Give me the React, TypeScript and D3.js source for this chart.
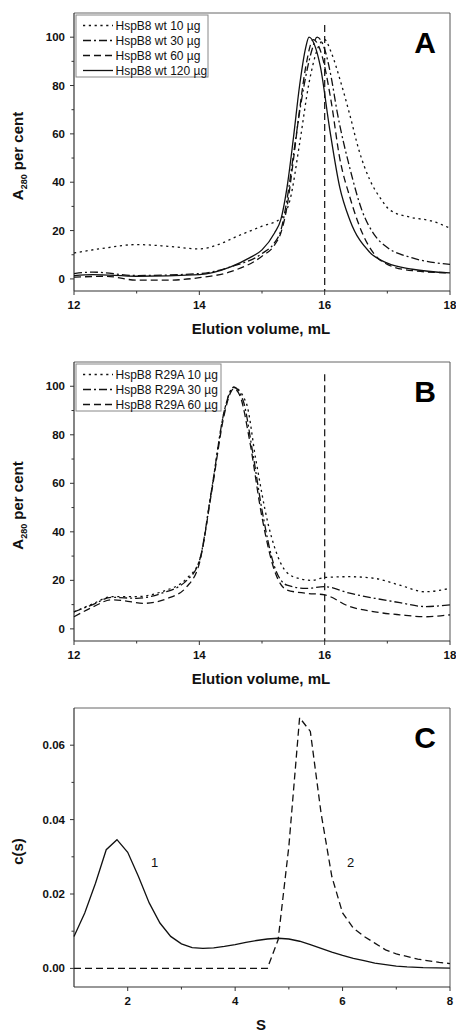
import React from "react";
import * as d3 from "d3";

// ---------- Panel A data (elution volume, mL ; A280 %) ----------
const aVol10 = [12, 12.5, 13.0, 13.5, 14.0, 14.3, 14.6, 15.0, 15.3, 15.45, 15.6, 15.75, 15.9, 16.0, 16.1, 16.25, 16.4, 16.55, 16.72, 16.9, 17.04, 17.37, 17.7, 18];
const aVal10 = [10.7, 12.8, 14.2, 13.5, 12.4, 14.2, 17.6, 21.8, 25, 33, 56, 81, 96, 99, 94, 82, 68, 53, 41, 33, 28.5, 25.5, 24, 21];
const aVol30 = [12, 12.3, 13.0, 14.0, 14.5, 15.0, 15.2, 15.3, 15.4, 15.5, 15.6, 15.7, 15.8, 15.88, 16.0, 16.1, 16.2, 16.4, 16.6, 16.8, 17.0, 17.4, 18];
const aVal30 = [2.2, 2.8, 1.4, 2.2, 5, 10.5, 15, 20, 33, 51, 69, 84, 95, 100, 95, 84, 69, 46, 28, 18, 13, 8.7, 6];
const aVol60 = [12, 12.5, 13.0, 13.5, 14.0, 14.5, 15.0, 15.2, 15.3, 15.4, 15.5, 15.6, 15.7, 15.82, 15.95, 16.1, 16.24, 16.4, 16.6, 16.8, 17.0, 17.4, 18];
const aVal60 = [0.7, 1.1, -0.5, -0.5, 0.5, 3, 9.4, 14, 19, 30, 49, 70, 88, 99, 93, 74, 50, 34, 19, 10, 6, 3.4, 2.5];
const aVol120 = [12, 12.3, 13, 14, 14.5, 14.8, 15.0, 15.2, 15.3, 15.4, 15.5, 15.6, 15.7, 15.75, 15.85, 15.93, 16.08, 16.24, 16.4, 16.72, 17.0, 17.4, 18];
const aVal120 = [1.4, 1.8, 1.1, 1.8, 5, 8.7, 12, 19, 24.5, 38, 58, 80, 96, 100, 96, 88, 62, 38, 24.5, 11, 6.5, 4, 2.5];
const aLegend = ["HspB8 wt 10 µg", "HspB8 wt 30 µg", "HspB8 wt 60 µg", "HspB8 wt 120 µg"];

// ---------- Panel B data ----------
const bVol10 = [12, 12.3, 12.6, 13.0, 13.4, 13.8, 14.0, 14.2, 14.4, 14.55, 14.75, 14.9, 15.1, 15.3, 15.5, 15.8, 16.0, 16.4, 16.8, 17.2, 17.6, 18];
const bVal10 = [7, 10.3, 13.3, 13.3, 15.3, 20.8, 28, 58, 90, 99.6, 93, 70, 43, 27, 21.5, 20, 21.2, 21.5, 20.8, 18, 15.3, 16.7];
const bVol30 = [12, 12.3, 12.6, 13.0, 13.4, 13.8, 14.0, 14.2, 14.4, 14.55, 14.7, 14.85, 15.0, 15.2, 15.4, 15.7, 16.0, 16.4, 16.8, 17.2, 17.6, 18];
const bVal30 = [7, 10, 13, 12.6, 14.7, 20, 28, 58, 90, 99.6, 94, 73, 49, 25.6, 18, 16.7, 17.4, 14.7, 12.6, 10.8, 9.2, 9.9];
const bVol60 = [12, 12.3, 12.6, 12.8, 13.1, 13.5, 13.8, 14.0, 14.2, 14.4, 14.5, 14.55, 14.65, 14.8, 15.0, 15.2, 15.4, 15.7, 16.0, 16.4, 16.8, 17.2, 17.6, 18];
const bVal60 = [5, 9, 12, 11.6, 10.5, 12.6, 17.4, 27, 57, 88.6, 97.5, 99, 96, 78, 46, 24, 16, 14.7, 14, 9.2, 7, 5.8, 5, 5.8];
const bLegend = ["HspB8 R29A 10 µg", "HspB8 R29A 30 µg", "HspB8 R29A 60 µg"];

// ---------- Panel C data (S ; c(s)) ----------
const cS1 = [1.0, 1.2, 1.4, 1.6, 1.8, 2.0, 2.2, 2.4, 2.6, 2.8, 3.0, 3.2, 3.4, 3.6, 3.8, 4.0, 4.2, 4.4, 4.6, 4.8, 5.0, 5.2, 5.4, 5.6, 5.8, 6.0, 6.2, 6.4, 6.6, 6.8, 7.0, 7.2, 7.5, 8.0];
const cVal1 = [0.0086, 0.0149, 0.0229, 0.0319, 0.0346, 0.0312, 0.0247, 0.0176, 0.0122, 0.0086, 0.0066, 0.0056, 0.0054, 0.0055, 0.0059, 0.0064, 0.007, 0.0075, 0.0079, 0.0081, 0.0079, 0.0073, 0.0064, 0.0054, 0.0044, 0.0035, 0.0027, 0.0021, 0.0014, 0.001, 0.0006, 0.0004, 0.0002, 0.0001];
const cS2 = [1.0, 2.0, 3.0, 4.0, 4.6, 4.8, 5.0, 5.2, 5.4, 5.6, 5.8, 6.0, 6.2, 6.4, 6.6, 6.8, 7.0, 7.4, 7.8, 8.0];
const cVal2 = [0, 0, 0, 0, 0, 0.0077, 0.0328, 0.0674, 0.0637, 0.0417, 0.0247, 0.0149, 0.0108, 0.0086, 0.0068, 0.005, 0.0039, 0.0025, 0.0016, 0.0013];

const elutionTicks = [12, 14, 16, 18];
const elutionMinor = [13, 15, 17];
const pctTicks = [0, 20, 40, 60, 80, 100];
const pctMinor = [10, 30, 50, 70, 90];
const sTicks = [2, 4, 6, 8];
const sMinor = [3, 5, 7];
const csTicks = [0, 0.02, 0.04, 0.06];
const csMinor = [0.01, 0.03, 0.05];

const DOT = "2.2,3.6";
const DASHDOT = "8,3,2,3";
const DASH = "7,4";
const SOLID = "none";

const FONT = "'Liberation Sans', Arial, sans-serif";
const INK = "#111";

type Series = { xs: number[]; ys: number[]; dash: string; label?: string };

function Panel(props: {
  top: number;
  bottom: number;
  xDomain: [number, number];
  yDomain: [number, number];
  xTicks: number[];
  xMinor: number[];
  yTicks: number[];
  yMinor: number[];
  yFmt: (v: number) => string;
  series: Series[];
  curve: any;
  letter: string;
  xTitle: string;
  yTitle: React.ReactNode;
  vline?: number;
  vlineTop?: number;
  legend?: { x0: number; x1: number; y0: number; rowH: number };
  children?: (x: any, y: any) => React.ReactNode;
}) {
  const left = 74;
  const right = 450;
  const x = d3.scaleLinear().domain(props.xDomain).range([left, right]);
  const y = d3.scaleLinear().domain(props.yDomain).range([props.bottom, props.top]);
  const line = (s: Series) =>
    d3
      .line<number>()
      .x((_, i) => x(s.xs[i]))
      .y((v) => y(v))
      .curve(props.curve)(s.ys) || "";
  const midY = (props.top + props.bottom) / 2 + 4;
  return (
    <g>
      {/* frame */}
      <line x1={left} x2={right} y1={props.top} y2={props.top} stroke="#666" strokeWidth={1} />
      <line x1={right} x2={right} y1={props.top} y2={props.bottom} stroke="#555" strokeWidth={1} />
      <line x1={left} x2={left} y1={props.top} y2={props.bottom} stroke="#333" strokeWidth={1.2} />
      <line x1={left} x2={right} y1={props.bottom} y2={props.bottom} stroke="#333" strokeWidth={1.2} />
      {props.xTicks.map((t) => (
        <g key={"xt" + t}>
          <line x1={x(t)} x2={x(t)} y1={props.bottom} y2={props.bottom + 4} stroke="#333" />
          <text x={x(t)} y={props.bottom + 18} textAnchor="middle" fontFamily={FONT} fontWeight="bold" fontSize={11.5} fill={INK}>
            {t}
          </text>
        </g>
      ))}
      {props.xMinor.map((t) => (
        <line key={"xm" + t} x1={x(t)} x2={x(t)} y1={props.bottom} y2={props.bottom + 2.5} stroke="#333" />
      ))}
      {props.yTicks.map((t) => (
        <g key={"yt" + t}>
          <line x1={left - 4} x2={left} y1={y(t)} y2={y(t)} stroke="#333" />
          <text x={left - 9} y={y(t) + 4} textAnchor="end" fontFamily={FONT} fontWeight="bold" fontSize={11.5} fill={INK}>
            {props.yFmt(t)}
          </text>
        </g>
      ))}
      {props.yMinor.map((t) => (
        <line key={"ym" + t} x1={left - 2.5} x2={left} y1={y(t)} y2={y(t)} stroke="#333" />
      ))}
      <text x={(left + right) / 2 - 1} y={props.bottom + 43} textAnchor="middle" fontFamily={FONT} fontWeight="bold" fontSize={15} fill={INK}>
        {props.xTitle}
      </text>
      <text transform={`translate(23,${midY}) rotate(-90)`} textAnchor="middle" fontFamily={FONT} fontWeight="bold" fontSize={15} fill={INK}>
        {props.yTitle}
      </text>
      <text x={425} y={props.top + 40} textAnchor="middle" fontFamily={FONT} fontWeight="bold" fontSize={30} fill="#000">
        {props.letter}
      </text>
      {props.vline !== undefined && (
        <line
          x1={x(props.vline)}
          x2={x(props.vline)}
          y1={y(props.vlineTop as number)}
          y2={props.bottom}
          stroke="#222"
          strokeWidth={1.3}
          strokeDasharray="7,4"
        />
      )}
      {props.series.map((s, i) => (
        <path key={"s" + i} d={line(s)} fill="none" stroke="#111" strokeWidth={1.3} strokeDasharray={s.dash} />
      ))}
      {props.children && props.children(x, y)}
      {props.legend && (
        <g>
          <rect
            x={props.legend.x0}
            y={props.legend.y0}
            width={props.legend.x1 - props.legend.x0}
            height={props.series.length * props.legend.rowH + 2}
            fill="#fff"
            stroke="#888"
            strokeWidth={1}
          />
          {props.series.map((s, i) => {
            const cy = props.legend!.y0 + 10.5 + i * props.legend!.rowH;
            return (
              <g key={"lg" + i}>
                <line x1={83} x2={113} y1={cy} y2={cy} stroke="#111" strokeWidth={1.3} strokeDasharray={s.dash} />
                <text x={115.5} y={cy + 4.3} fontFamily={FONT} fontSize={12} fill={INK}>
                  {s.label}
                </text>
              </g>
            );
          })}
        </g>
      )}
    </g>
  );
}

const yTitleA = (
  <>
    A<tspan fontSize={9} dy={4}>280</tspan>
    <tspan dy={-4}> per cent</tspan>
  </>
);

export default function App() {
  const seriesA: Series[] = [
    { xs: aVol10, ys: aVal10, dash: DOT, label: aLegend[0] },
    { xs: aVol30, ys: aVal30, dash: DASHDOT, label: aLegend[1] },
    { xs: aVol60, ys: aVal60, dash: DASH, label: aLegend[2] },
    { xs: aVol120, ys: aVal120, dash: SOLID, label: aLegend[3] },
  ];
  const seriesB: Series[] = [
    { xs: bVol10, ys: bVal10, dash: DOT, label: bLegend[0] },
    { xs: bVol30, ys: bVal30, dash: DASHDOT, label: bLegend[1] },
    { xs: bVol60, ys: bVal60, dash: DASH, label: bLegend[2] },
  ];
  const seriesC: Series[] = [
    { xs: cS1, ys: cVal1, dash: SOLID },
    { xs: cS2, ys: cVal2, dash: DASH },
  ];
  return (
    <svg width={456} height={1032} style={{ position: "absolute", left: 0, top: 0, background: "#fff" }}>
      <rect width={456} height={1032} fill="#fff" />
      <Panel
        top={13}
        bottom={291}
        xDomain={[12, 18]}
        yDomain={[-5, 110]}
        xTicks={elutionTicks}
        xMinor={elutionMinor}
        yTicks={pctTicks}
        yMinor={pctMinor}
        yFmt={(v) => String(v)}
        series={seriesA}
        curve={d3.curveMonotoneX}
        letter="A"
        xTitle="Elution volume, mL"
        yTitle={yTitleA}
        vline={16}
        vlineTop={105}
        legend={{ x0: 76, x1: 208, y0: 15, rowH: 15 }}
      />
      <Panel
        top={362}
        bottom={641}
        xDomain={[12, 18]}
        yDomain={[-5, 110]}
        xTicks={elutionTicks}
        xMinor={elutionMinor}
        yTicks={pctTicks}
        yMinor={pctMinor}
        yFmt={(v) => String(v)}
        series={seriesB}
        curve={d3.curveMonotoneX}
        letter="B"
        xTitle="Elution volume, mL"
        yTitle={yTitleA}
        vline={16}
        vlineTop={105}
        legend={{ x0: 76, x1: 221, y0: 364, rowH: 15 }}
      />
      <Panel
        top={708}
        bottom={987}
        xDomain={[1, 8]}
        yDomain={[-0.005, 0.07]}
        xTicks={sTicks}
        xMinor={sMinor}
        yTicks={csTicks}
        yMinor={csMinor}
        yFmt={(v) => v.toFixed(2)}
        series={seriesC}
        curve={d3.curveLinear}
        letter="C"
        xTitle="S"
        yTitle="c(s)"
      >
        {(x, y) => (
          <g fontFamily={FONT} fontSize={13} fill={INK}>
            <text x={x(2.5)} y={y(0.0285) + 5} textAnchor="middle">1</text>
            <text x={x(6.15)} y={y(0.0285) + 5} textAnchor="middle">2</text>
          </g>
        )}
      </Panel>
    </svg>
  );
}
